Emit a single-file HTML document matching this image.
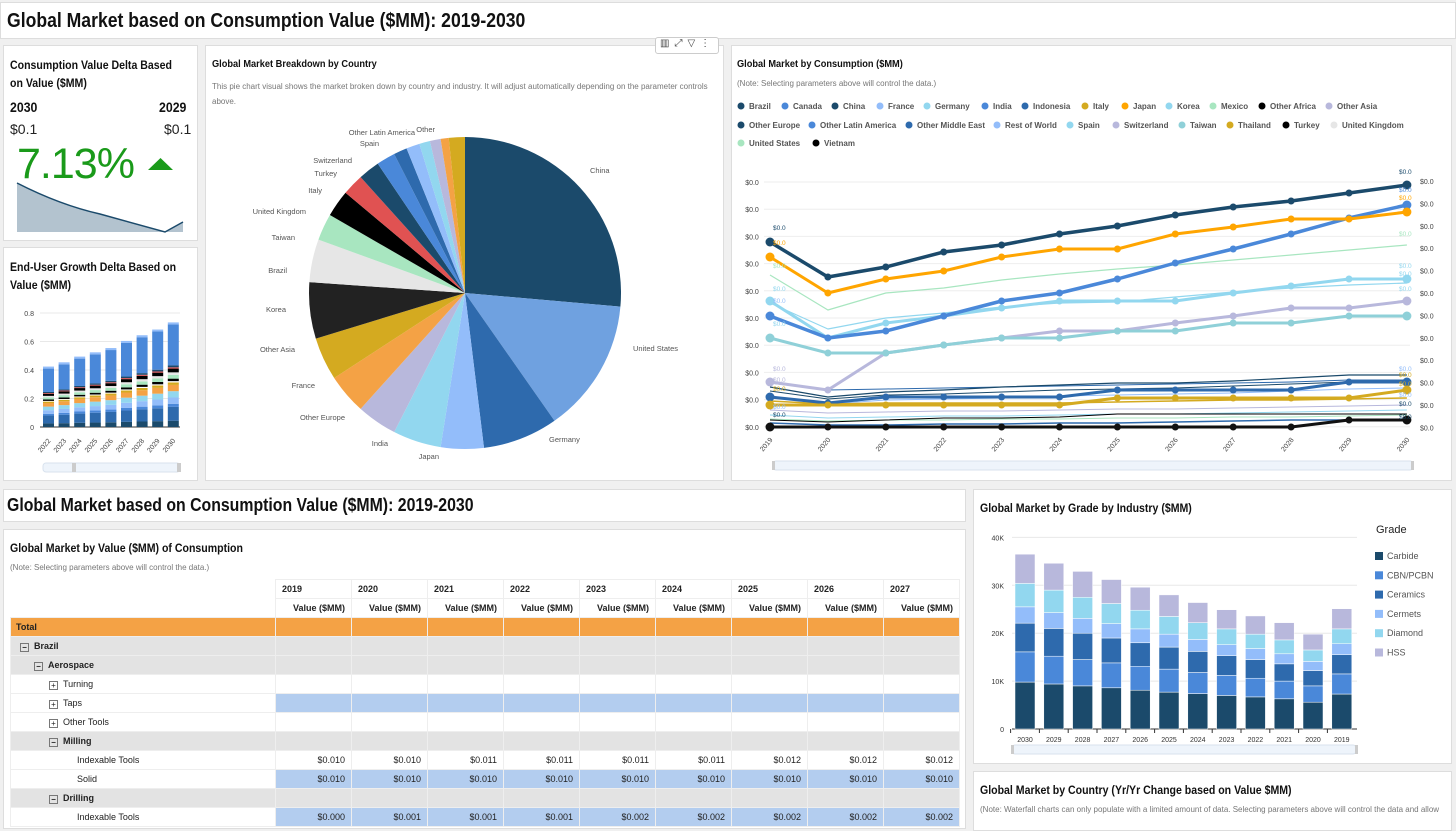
<!DOCTYPE html>
<html><head><meta charset="utf-8">
<style>
*{margin:0;padding:0;box-sizing:border-box}
body{width:1456px;height:819px;background:#f0f0f0;font-family:"Liberation Sans",sans-serif;position:relative;overflow:hidden;color:#222}
.p{position:absolute;background:#fff;border:1px solid #ddd}
.t{position:absolute;font-weight:bold;color:#111;transform:scaleX(0.88);transform-origin:0 0;white-space:nowrap}
.n{position:absolute;font-size:8px;color:#777}
svg{position:absolute;left:0;top:0}
table{border-collapse:collapse;position:absolute;left:10px;top:579px;font-size:9px}
td{height:19px;border:1px solid #eee;padding:0 6px;white-space:nowrap}
</style></head><body>
<div class="p" style="left:0;top:2px;width:1456px;height:37px"></div>
<div class="t" style="left:7px;top:10px;font-size:20px">Global Market based on Consumption Value ($MM): 2019-2030</div>

<div class="p" style="left:3px;top:45px;width:195px;height:196px"></div>
<div class="t" style="left:10px;top:56px;font-size:12px;line-height:18px">Consumption Value Delta Based<br>on Value ($MM)</div>
<div class="t" style="left:10px;top:99px;font-size:14px">2030</div>
<div class="t" style="left:159px;top:99px;font-size:14px">2029</div>
<div style="position:absolute;left:10px;top:121px;font-size:14px">$0.1</div>
<div style="position:absolute;left:164px;top:121px;font-size:14px">$0.1</div>
<div style="position:absolute;left:17px;top:140px;font-size:43px;color:#1a9a1a;letter-spacing:-1px">7.13%</div>

<div class="p" style="left:3px;top:247px;width:195px;height:234px"></div>
<div class="t" style="left:10px;top:258px;font-size:12px;line-height:18px">End-User Growth Delta Based on<br>Value ($MM)</div>

<div class="p" style="left:205px;top:45px;width:519px;height:436px"></div>
<div class="t" style="left:212px;top:58px;font-size:10.5px">Global Market Breakdown by Country</div>
<div class="n" style="left:212px;top:79px;width:500px;line-height:15px">This pie chart visual shows the market broken down by country and industry. It will adjust automatically depending on the parameter controls above.</div>
<div style="position:absolute;left:655px;top:37px;width:64px;height:17px;background:#fff;border:1px solid #ccc;border-radius:3px;font-size:10px;color:#444;padding-left:4px;letter-spacing:5px">▥⤢▽⋮</div>

<div class="p" style="left:731px;top:45px;width:721px;height:436px"></div>
<div class="t" style="left:737px;top:58px;font-size:10.5px">Global Market by Consumption ($MM)</div>
<div class="n" style="left:737px;top:79px">(Note: Selecting parameters above will control the data.)</div>

<div class="p" style="left:3px;top:489px;width:963px;height:33px"></div>
<div class="t" style="left:7px;top:495px;font-size:18px">Global Market based on Consumption Value ($MM): 2019-2030</div>
<div class="p" style="left:3px;top:529px;width:963px;height:300px"></div>
<div class="t" style="left:10px;top:541px;font-size:12px">Global Market by Value ($MM) of Consumption</div>
<div class="n" style="left:10px;top:563px">(Note: Selecting parameters above will control the data.)</div>
<table id="tb"></table>

<div class="p" style="left:973px;top:489px;width:479px;height:275px"></div>
<div class="t" style="left:980px;top:501px;font-size:12px">Global Market by Grade by Industry ($MM)</div>
<div class="p" style="left:973px;top:771px;width:479px;height:60px"></div>
<div class="t" style="left:980px;top:783px;font-size:12px">Global Market by Country (Yr/Yr Change based on Value $MM)</div>
<div class="n" style="left:980px;top:805px">(Note: Waterfall charts can only populate with a limited amount of data. Selecting parameters above will control the data and allow</div>

<svg id="s" width="1456" height="819" font-family="Liberation Sans, sans-serif"></svg>
<script>
var S='';
function R(x,y,w,h,c,e){S+='<rect x="'+x+'" y="'+y+'" width="'+w+'" height="'+h+'" fill="'+c+'" '+(e||'')+'/>';}
function T(x,y,s,z,c,e){S+='<text x="'+x+'" y="'+y+'" font-size="'+z+'" fill="'+(c||'#555')+'" '+(e||'')+'>'+s+'</text>';}
function L(x1,y1,x2,y2,c,w){S+='<line x1="'+x1+'" y1="'+y1+'" x2="'+x2+'" y2="'+y2+'" stroke="'+c+'" stroke-width="'+(w||1)+'"/>';}
S+='<polygon points="148,170 173,170 160.5,158" fill="#1a9a1a"/>';
S+='<path d="M17,183 Q60,205 100,214 L165,232 L183,222 L183,232 L17,232Z" fill="#b3c3cf"/><path d="M17,183 Q60,205 100,214 L165,232 L183,222" fill="none" stroke="#1b4a6b" stroke-width="1.5"/>';
var yb=427,sc=142.5;
[0,0.2,0.4,0.6,0.8].forEach(function(v,i){var y=yb-v*sc;L(40,y,180,y,'#e8e8e8');T(34,y+3,v==0?'0':v,7,'#444','text-anchor="end"');});
L(40,427,180,427,'#333');
var tots=[.41,.44,.48,.51,.54,.59,.63,.67,.72];
var lc=['#1b4a6b','#2e6aad','#4a88d9','#93bdfa','#92d7ef','#f4a245','#d4aa20','#fff','#000','#a8e6c0','#e6e6e6','#000','#e05252','#1b4a6b'];
var lf=[.05,.11,.025,.05,.05,.05,.02,.01,.02,.03,.02,.03,.01,.015];
tots.forEach(function(t,i){var x=43+i*15.6,y=yb,low=t*0.6;var sum=0;lf.forEach(function(f){sum+=f});
lf.forEach(function(f,j){var h=f/sum*low*sc;y-=h;R(x,y,11,h,lc[j]);});
var h=(t-low)*sc;y-=h;R(x,y,11,h,'#4a88d9');R(x,y-2,11,2,'#93bdfa');
T(x+8,441,2022+i,7,'#444','text-anchor="end" transform="rotate(-50 '+(x+8)+' 441)"');});
R(43,463,137,9,'#eef4fb','stroke="#d8e2ee" rx="3"');R(72,463,4,9,'#ccc');R(177,463,4,9,'#ccc');
var cx=465,cy=293,r=156;
var sl=[[95,'#1b4a6b'],[50,'#6fa1e0'],[28,'#2e6aad'],[16,'#93bdfa'],[18,'#92d7ef'],[15,'#b8b8dc'],[15,'#f4a245'],[16,'#d4aa20'],[21,'#222'],[16,'#e6e6e6'],[10,'#a8e6c0'],[10,'#000'],[8,'#e05252'],[8,'#1b4a6b'],[7,'#4a88d9'],[5,'#2e6aad'],[5,'#93bdfa'],[4,'#92d7ef'],[4,'#b8b8dc'],[3,'#f4a245'],[6,'#d4aa20']];
var tot=0;sl.forEach(function(s){tot+=s[0]});var a=0;
sl.forEach(function(s){var a1=a/tot*2*Math.PI,a2=(a+s[0])/tot*2*Math.PI;a+=s[0];
var x1=cx+r*Math.sin(a1),y1=cy-r*Math.cos(a1),x2=cx+r*Math.sin(a2),y2=cy-r*Math.cos(a2);
S+='<path d="M'+cx+','+cy+' L'+x1+','+y1+' A'+r+','+r+' 0 '+((a2-a1)>Math.PI?1:0)+' 1 '+x2+','+y2+'Z" fill="'+s[1]+'"/>';});
[['China',590,173,0],['United States',633,351,0],['Germany',549,442,0],['Japan',439,459,1],['India',388,446,1],['Other Europe',345,420,1],['France',315,388,1],['Other Asia',295,352,1],['Korea',286,312,1],['Brazil',287,273,1],['Taiwan',295,240,1],['United Kingdom',306,214,1],['Italy',322,193,1],['Turkey',337,176,1],['Switzerland',352,163,1],['Spain',379,146,1],['Other Latin America',415,135,1],['Other',435,132,1]].forEach(function(l){
T(l[1],l[2],l[0],7.5,'#555',l[3]?'text-anchor="end"':'');});
var lg=[['Brazil',737,106,'#1b4a6b'],['Canada',781,106,'#4a88d9'],['China',831,106,'#1b4a6b'],['France',876,106,'#93bdfa'],['Germany',923,106,'#92d7ef'],['India',981,106,'#4a88d9'],['Indonesia',1021,106,'#2e6aad'],['Italy',1081,106,'#d4aa20'],['Japan',1121,106,'#ffa500'],['Korea',1165,106,'#92d7ef'],['Mexico',1209,106,'#a8e6c0'],['Other Africa',1258,106,'#000'],['Other Asia',1325,106,'#b8b8dc'],
['Other Europe',737,125,'#1b4a6b'],['Other Latin America',808,125,'#4a88d9'],['Other Middle East',905,125,'#2e6aad'],['Rest of World',993,125,'#93bdfa'],['Spain',1066,125,'#92d7ef'],['Switzerland',1112,125,'#b8b8dc'],['Taiwan',1178,125,'#8fd0d8'],['Thailand',1226,125,'#d4aa20'],['Turkey',1282,125,'#000'],['United Kingdom',1330,125,'#e6e6e6'],
['United States',737,143,'#a8e6c0'],['Vietnam',812,143,'#000']];
lg.forEach(function(l){S+='<circle cx="'+(l[1]+4)+'" cy="'+l[2]+'" r="3.5" fill="'+l[3]+'"/>';T(l[1]+12,l[2]+3,l[0],8,'#555','font-weight="bold"');});
for(var i=0;i<10;i++){var y=182+i*27.2;L(764,y,1410,y,'#eee');T(752,y+3,'$0.0',7,'#444','text-anchor="middle"');}
for(var i=0;i<12;i++){T(1420,184+i*22.4,'$0.0',7,'#444');}
var X=function(i){return 770+i*57.9};
for(var i=0;i<12;i++){T(X(i)+3,440,2019+i,7,'#444','text-anchor="end" transform="rotate(-50 '+(X(i)+3)+' 440)"');}
function line(ys,c,w,dots){var d='';ys.forEach(function(y,i){d+=(i?'L':'M')+X(i)+','+y;});S+='<path d="'+d+'" fill="none" stroke="'+c+'" stroke-width="'+w+'" stroke-linejoin="round"/>';
if(dots)ys.forEach(function(y,i){S+='<circle cx="'+X(i)+'" cy="'+y+'" r="'+(i==0||i==11?4.5:3.5)+'" fill="'+c+'"/>';});}
line([383,390,389,388,387,386,385,384,383,382,380,380],'#2e6aad',1);
line([410,413,412,411,411,410,409,409,408,407,406,405],'#b8b8dc',1);
line([415,418,417,416,416,415,414,414,413,412,411,410],'#92d7ef',1);
line([419,421,420,420,419,419,418,418,417,417,416,415],'#a8e6c0',1);
line([420,422,420,418,418,417,414,414,414,414,414,414],'#000',1);
line([423,425,425,424,424,423,423,422,421,420,420,420],'#2e6aad',1.5);
line([387,397,392,390,387,385,383,383,381,378,375,375],'#1b4a6b',1.2);
line([391,399,395,394,392,390,389,388,386,384,382,381],'#1b4a6b',1);
line([396,404,400,399,398,396,395,394,393,391,389,388],'#93bdfa',1);
line([401,404,403,403,403,403,402,401,400,400,399,398],'#d4aa20',1.5);
line([397,403,397,397,397,397,390,390,390,390,382,382],'#2e6aad',3,1);
line([405,405,405,405,405,405,398,398,398,398,398,390],'#d4aa20',3,1);
line([427,427,427,427,427,427,427,427,427,427,420,420],'#111',3,1);
line([382,390,353,345,338,331,331,323,316,308,308,301],'#b8b8dc',3,1);
line([338,353,353,345,338,338,331,331,323,323,316,316],'#8fd0d8',3,1);
line([303,329,318,313,307,303,302,297,292,288,285,283],'#92d7ef',1.2);
line([301,338,323,316,308,301,301,301,293,286,279,279],'#92d7ef',3,1);
line([275,310,293,288,280,274,269,265,260,255,250,245],'#a8e6c0',1.2);
line([316,338,331,316,301,293,279,263,249,234,218,205],'#4a88d9',3.5,1);
line([257,293,279,271,257,249,249,234,227,219,219,212],'#ffa500',3,1);
line([242,277,267,252,245,234,226,215,207,201,193,185],'#1b4a6b',3.5,1);
[[230,'#1b4a6b'],[245,'#ffa500'],[268,'#a8e6c0'],[291,'#92d7ef'],[303,'#93bdfa'],[326,'#92d7ef'],[371,'#b8b8dc'],[382,'#b8b8dc'],[391,'#d4aa20'],[409,'#93bdfa'],[417,'#1b4a6b']].forEach(function(l){T(773,l[0],'$0.0',6.5,l[1]);});
[[174,'#1b4a6b'],[192,'#4a88d9'],[200,'#ffa500'],[236,'#a8e6c0'],[268,'#92d7ef'],[276,'#92d7ef'],[291,'#92d7ef'],[371,'#93bdfa'],[377,'#d4aa20'],[386,'#d4aa20'],[397,'#93bdfa'],[406,'#1b4a6b'],[419,'#1b4a6b']].forEach(function(l){T(1399,l[0],'$0.0',6.5,l[1]);});
R(773,461,640,9,'#eef4fb','stroke="#d8e2ee" rx="3"');R(772,461,3,9,'#ccc');R(1411,461,3,9,'#ccc');
var g0=729,gs=4.79;
[0,10,20,30,40].forEach(function(v){var y=g0-v*gs;L(1012,y,1357,y,'#e8e8e8');T(1004,y+3,v?v+'K':'0',7,'#333','text-anchor="end"');});
L(1012,729,1357,729,'#333');
var gd=[[9.8,16.1,22.1,25.5,30.4,36.5],[9.4,15.2,21,24.3,29,34.6],[9,14.5,20,23.1,27.5,32.9],[8.6,13.8,19,22,26.2,31.2],[8.1,13.1,18,20.9,24.8,29.6],[7.7,12.5,17.1,19.8,23.5,28],[7.4,11.8,16.2,18.7,22.2,26.4],[7,11.2,15.3,17.6,20.9,24.9],[6.7,10.6,14.5,16.8,19.8,23.6],[6.3,10,13.6,15.7,18.6,22.2],[5.6,9,12.2,14.1,16.5,19.8],[7.3,11.5,15.5,17.8,20.9,25.1]];
var gc=['#1b4a6b','#4a88d9','#2e6aad','#93bdfa','#92d7ef','#b8b8dc'];
gd.forEach(function(b,i){var cx=1025+i*28.8,p=0;b.forEach(function(v,j){R(cx-10,g0-v*gs,20,(v-p)*gs,gc[j],'stroke="#fff" stroke-width="0.5"');p=v;});
L(cx-14.4,729,cx-14.4,733,'#333');T(cx,742,2030-i,7,'#333','text-anchor="middle"');});
R(1012,745,344,9,'#eef4fb','stroke="#d8e2ee" rx="3"');R(1011,745,3,9,'#ccc');R(1355,745,3,9,'#ccc');
T(1376,533,'Grade',11,'#222');
['Carbide','CBN/PCBN','Ceramics','Cermets','Diamond','HSS'].forEach(function(n,i){var y=556+i*19.3;R(1375,y-4,8,8,gc[i]);T(1387,y+3,n,9,'#555');});
document.getElementById('s').innerHTML=S;
var h='<tr><td style="width:265px;border:none"></td>';for(var y=2019;y<=2027;y++)h+='<td style="width:76px;font-weight:bold">'+y+'</td>';
h+='</tr><tr><td style="border:none"></td>';for(var i=0;i<9;i++)h+='<td style="text-align:right;font-weight:bold">Value ($MM)</td>';h+='</tr>';
function row(lbl,ind,icon,bg,cellbg,vals,bold){var ic=icon?'<span style="display:inline-block;width:9px;height:9px;border:1px solid #777;font-size:8px;line-height:7px;text-align:center;margin-right:5px;vertical-align:-1px">'+icon+'</span>':'';
var s='<tr style="background:'+bg+'"><td style="padding-left:'+ind+'px;'+(bold?'font-weight:bold':'')+'">'+ic+lbl+'</td>';
for(var i=0;i<9;i++)s+='<td style="background:'+cellbg+';text-align:right">'+(vals?vals[i]:'')+'</td>';return s+'</tr>';}
var v1=['$0.010','$0.010','$0.011','$0.011','$0.011','$0.011','$0.012','$0.012','$0.012'];
var v2=['$0.010','$0.010','$0.010','$0.010','$0.010','$0.010','$0.010','$0.010','$0.010'];
var v3=['$0.000','$0.001','$0.001','$0.001','$0.002','$0.002','$0.002','$0.002','$0.002'];
h+=row('Total',5,'','#f4a245','#f4a245',0,1)+row('Brazil',9,'−','#e3e3e3','#e3e3e3',0,1)+row('Aerospace',23,'−','#e3e3e3','#e3e3e3',0,1)
+row('Turning',38,'+','#fff','#fff')+row('Taps',38,'+','#fff','#b3cdef')+row('Other Tools',38,'+','#fff','#fff')
+row('Milling',38,'−','#e3e3e3','#e3e3e3',0,1)+row('Indexable Tools',66,'','#fff','#fff',v1)+row('Solid',66,'','#fff','#b3cdef',v2)
+row('Drilling',38,'−','#e3e3e3','#e3e3e3',0,1)+row('Indexable Tools',66,'','#fff','#b3cdef',v3);
document.getElementById('tb').innerHTML=h;
</script>
</body></html>
